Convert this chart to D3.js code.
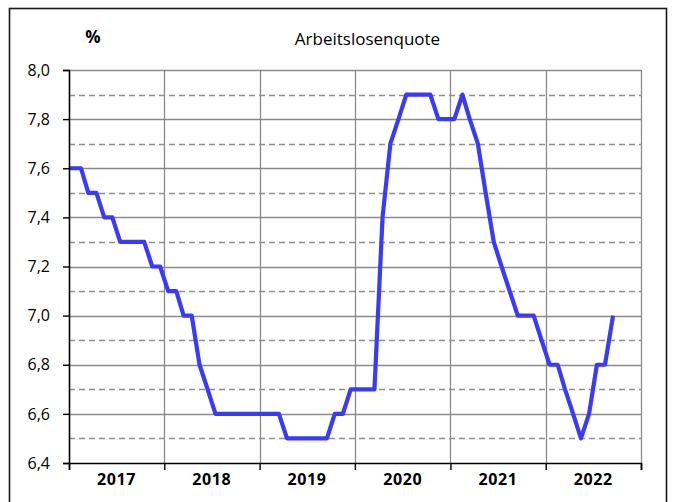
<!DOCTYPE html>
<html lang="de">
<head>
    <meta charset="UTF-8">
    <title>Arbeitslosenquote</title>
    <style>
        body { margin: 0; background: #fff; }
        svg text { font-family: "Open Sans", sans-serif; fill: #000; }
    </style>
</head>
<body>

<script src="https://d3js.org/d3.v7.min.js"></script>
<script>
    // monthly values, Dec 2016 .. Sep 2022 (in %)
    var months = [
        "2016-12",
        "2017-01","2017-02","2017-03","2017-04","2017-05","2017-06","2017-07","2017-08","2017-09","2017-10","2017-11","2017-12",
        "2018-01","2018-02","2018-03","2018-04","2018-05","2018-06","2018-07","2018-08","2018-09","2018-10","2018-11","2018-12",
        "2019-01","2019-02","2019-03","2019-04","2019-05","2019-06","2019-07","2019-08","2019-09","2019-10","2019-11","2019-12",
        "2020-01","2020-02","2020-03","2020-04","2020-05","2020-06","2020-07","2020-08","2020-09","2020-10","2020-11","2020-12",
        "2021-01","2021-02","2021-03","2021-04","2021-05","2021-06","2021-07","2021-08","2021-09","2021-10","2021-11","2021-12",
        "2022-01","2022-02","2022-03","2022-04","2022-05","2022-06","2022-07","2022-08","2022-09"
    ];
    var quote = [
        7.6,
        7.6, 7.6, 7.5, 7.5, 7.4, 7.4, 7.3, 7.3, 7.3, 7.3, 7.2, 7.2,
        7.1, 7.1, 7.0, 7.0, 6.8, 6.7, 6.6, 6.6, 6.6, 6.6, 6.6, 6.6,
        6.6, 6.6, 6.6, 6.5, 6.5, 6.5, 6.5, 6.5, 6.5, 6.6, 6.6, 6.7,
        6.7, 6.7, 6.7, 7.4, 7.7, 7.8, 7.9, 7.9, 7.9, 7.9, 7.8, 7.8,
        7.8, 7.9, 7.8, 7.7, 7.5, 7.3, 7.2, 7.1, 7.0, 7.0, 7.0, 6.9,
        6.8, 6.8, 6.7, 6.6, 6.5, 6.6, 6.8, 6.8, 7.0
    ];
    var years = ["2017", "2018", "2019", "2020", "2021", "2022"];
    var yTicks = [6.4, 6.6, 6.8, 7.0, 7.2, 7.4, 7.6, 7.8, 8.0];
    var yMinor = [6.5, 6.7, 6.9, 7.1, 7.3, 7.5, 7.7, 7.9];

    var margin = {top: 70, left: 69},
        width = 572,
        height = 393;

    var de = d3.formatLocale({decimal: ",", thousands: ".", grouping: [3], currency: ["", " €"]});
    var parse = d3.timeParse("%Y-%m");

    var data = months.map(function(m, i) {
        var d = parse(m);
        return {date: new Date(d.getFullYear(), d.getMonth(), 16), value: quote[i]};
    });

    var x = d3.scaleTime()
        .domain([new Date(+years[0], 0, 1), new Date(+years[years.length - 1] + 1, 0, 1)])
        .range([0, width]);

    var y = d3.scaleLinear()
        .domain([6.4, 8.0])
        .range([height, 0]);

    var svg = d3.select("body")
        .append("svg")
        .attr("width", 675)
        .attr("height", 502);

    // outer frame
    svg.append("rect")
        .attr("x", 9.5)
        .attr("y", 8.5)
        .attr("width", 657)
        .attr("height", 520)
        .attr("fill", "none")
        .attr("stroke", "#1a1a1a")
        .attr("stroke-width", 1.6);

    var g = svg.append("g")
        .attr("transform", "translate(" + margin.left + "," + margin.top + ")");

    // grid
    g.selectAll(".minor")
        .data(yMinor)
        .enter()
        .append("line")
        .attr("x1", 0)
        .attr("x2", width)
        .attr("y1", function(d) { return Math.round(y(d)) + 0.5; })
        .attr("y2", function(d) { return Math.round(y(d)) + 0.5; })
        .attr("stroke", "#8f8f8f")
        .attr("stroke-width", 1.3)
        .attr("stroke-dasharray", "6,4");

    g.selectAll(".major")
        .data(yTicks.slice(1))
        .enter()
        .append("line")
        .attr("x1", 0)
        .attr("x2", width)
        .attr("y1", function(d) { return Math.round(y(d)) + 0.5; })
        .attr("y2", function(d) { return Math.round(y(d)) + 0.5; })
        .attr("stroke", "#8a8a8a")
        .attr("stroke-width", 1.3);

    var yearStarts = years.slice(1).map(function(v) { return new Date(+v, 0, 1); })
        .concat([x.domain()[1]]);

    g.selectAll(".vgrid")
        .data(yearStarts)
        .enter()
        .append("line")
        .attr("x1", function(d) { return Math.round(x(d)) + 0.5; })
        .attr("x2", function(d) { return Math.round(x(d)) + 0.5; })
        .attr("y1", 0)
        .attr("y2", height)
        .attr("stroke", "#8a8a8a")
        .attr("stroke-width", 1.3);

    // line
    svg.append("clipPath")
        .attr("id", "plotclip")
        .append("rect")
        .attr("x", 0)
        .attr("y", -10)
        .attr("width", width)
        .attr("height", height + 20);

    var line = d3.line()
        .x(function(d) { return x(d.date); })
        .y(function(d) { return y(d.value); });

    g.append("path")
        .datum(data)
        .attr("clip-path", "url(#plotclip)")
        .attr("fill", "none")
        .attr("stroke", "#3a3afa")
        .attr("stroke-width", 4.2)
        .attr("stroke-linejoin", "round")
        .attr("d", line);

    // axes
    var yAxis = g.append("g")
        .call(d3.axisLeft(y)
            .tickValues(yTicks)
            .tickSize(6)
            .tickPadding(13)
            .tickFormat(de.format(".1f")));

    var xAxis = g.append("g")
        .attr("transform", "translate(0," + height + ")")
        .call(d3.axisBottom(x)
            .tickValues([x.domain()[0]].concat(yearStarts))
            .tickSize(7)
            .tickFormat(""));

    svg.selectAll(".domain")
        .attr("stroke", "#000")
        .attr("stroke-width", 1.6);
    svg.selectAll(".tick line")
        .attr("stroke", "#000")
        .attr("stroke-width", 1.4);
    yAxis.selectAll("text")
        .style("font-size", "16px");

    g.selectAll(".yearlabel")
        .data(years)
        .enter()
        .append("text")
        .attr("x", function(d) { return x(new Date(+d, 6, 2)); })
        .attr("y", height + 22)
        .attr("text-anchor", "middle")
        .style("font-size", "16px")
        .style("font-weight", "bold")
        .style("letter-spacing", "0.6px")
        .text(function(d) { return d; });

    svg.append("text")
        .attr("x", 93)
        .attr("y", 43)
        .attr("text-anchor", "middle")
        .style("font-size", "17px")
        .style("font-weight", "bold")
        .text("%");

    svg.append("text")
        .attr("x", 367.5)
        .attr("y", 45)
        .attr("text-anchor", "middle")
        .style("font-size", "17px")
        .text("Arbeitslosenquote");
</script>
</body>
</html>
